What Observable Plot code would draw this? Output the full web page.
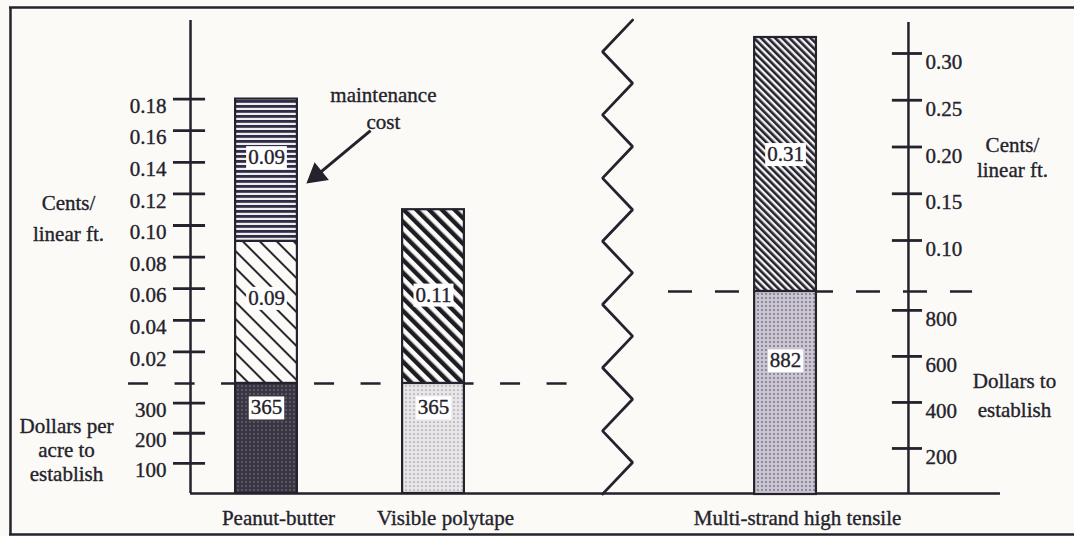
<!DOCTYPE html>
<html><head><meta charset="utf-8">
<script src="https://cdn.jsdelivr.net/npm/d3@7"></script>
<script src="https://cdn.jsdelivr.net/npm/@observablehq/plot@0.6"></script>
<style>
html,body{margin:0;padding:0;background:#fbfaf6;}
#chart{position:relative;width:1074px;height:536px;overflow:hidden;background:#fbfaf6;}
#chart svg.layer{position:absolute;left:0;top:0;}
</style></head><body>
<div id="chart"></div>
<script>
// ---------------- DATA ----------------
const fences = ["Peanut-butter", "Visible polytape", "Multi-strand high tensile"];
const establishDollars = [365, 365, 882];          // dollars to establish
const baseCents = [0.09, 0.11, 0.31];              // cents / linear ft.
const maintenanceCents = [0.09, null, null];       // maintenance cost, cents / linear ft.
const leftCentsTicks = [0.02, 0.04, 0.06, 0.08, 0.10, 0.12, 0.14, 0.16, 0.18];
const leftDollarTicks = [100, 200, 300];
const rightCentsTicks = [0.10, 0.15, 0.20, 0.25, 0.30];
const rightDollarTicks = [200, 400, 600, 800];

// ---------------- LAYOUT / STYLE ----------------
const W = 1074, H = 536;
const FONT = "'Liberation Serif', 'Times New Roman', serif";
const INK = "#24222c";
const FS = 21;
const slot = [0, 1, 3.108];       // bar slot along the shared x scale
const hw = 0.185;                  // half bar width in slot units
const axL = -0.455, axR = 3.844;   // axis positions in slot units
const centsPat = ["thinhatch", "thickhatch", "densehatch"];
const dollarPat = ["darkdots", "lightdots", "meddots"];
const centsLabelFrac = [0.6, 0.51, 0.54];
const maintLabelFrac = 0.59;
const dollarLabelFrac = [0.78, 0.78, 0.66];

const chart = document.getElementById("chart");
chart.insertAdjacentHTML("beforeend", `
<svg width="0" height="0" style="position:absolute">
 <defs>
  <pattern id="hstripe" patternUnits="userSpaceOnUse" width="8" height="5">
    <rect width="8" height="5" fill="#f1efec"/><rect width="8" height="2.8" fill="#2e2c48"/></pattern>
  <pattern id="thinhatch" patternUnits="userSpaceOnUse" width="12" height="12" patternTransform="rotate(-45)">
    <rect width="12" height="12" fill="#fbfaf6"/><rect width="2" height="12" fill="#2a2830"/></pattern>
  <pattern id="thickhatch" patternUnits="userSpaceOnUse" width="9" height="9" patternTransform="rotate(-45)">
    <rect width="9" height="9" fill="#fbfaf6"/><rect width="4.4" height="9" fill="#1e1c24"/></pattern>
  <pattern id="densehatch" patternUnits="userSpaceOnUse" width="5" height="5" patternTransform="rotate(-45)">
    <rect width="5" height="5" fill="#f4f2f2"/><rect width="2.6" height="5" fill="#24222c"/></pattern>
  <pattern id="darkdots" patternUnits="userSpaceOnUse" width="4" height="4">
    <rect width="4" height="4" fill="#3a3542"/><circle cx="2" cy="2" r="0.8" fill="#85808f"/></pattern>
  <pattern id="lightdots" patternUnits="userSpaceOnUse" width="4" height="4">
    <rect width="4" height="4" fill="#e8e6e8"/><circle cx="2" cy="2" r="0.85" fill="#9d9aa3"/></pattern>
  <pattern id="meddots" patternUnits="userSpaceOnUse" width="4" height="4">
    <rect width="4" height="4" fill="#cbc5d1"/><circle cx="2" cy="2" r="0.9" fill="#736c82"/></pattern>
 </defs>
</svg>`);

function layer(y, marks) {
  const svg = Plot.plot({
    width: W, height: H, margin: 0,
    style: {background: "transparent", fontFamily: FONT, fontSize: FS + "px", color: INK, overflow: "visible"},
    x: {domain: [0, 1], range: [266, 433], axis: null},
    y: {...y, axis: null},
    color: {type: "identity"},
    marks
  });
  svg.classList.add("layer");
  chart.appendChild(svg);
  return svg;
}

const txt = {fontSize: FS, fill: INK, stroke: INK, strokeWidth: 0.35};

// segments
const centsSegs = fences.map((f, i) => ({i, y1: 0, y2: baseCents[i], pat: `url(#${centsPat[i]})`,
  label: baseCents[i].toFixed(2), ly: baseCents[i] * centsLabelFrac[i]}));
const maintSegs = fences.map((f, i) => maintenanceCents[i] == null ? null :
  ({i, y1: baseCents[i], y2: baseCents[i] + maintenanceCents[i], pat: "url(#hstripe)",
    label: maintenanceCents[i].toFixed(2), ly: baseCents[i] + maintenanceCents[i] * maintLabelFrac})).filter(d => d);
const dollarSegs = fences.map((f, i) => ({i, y1: 0, y2: establishDollars[i], pat: `url(#${dollarPat[i]})`,
  label: String(establishDollars[i]), ly: establishDollars[i] * dollarLabelFrac[i]}));

const barOpts = {x1: d => slot[d.i] - hw, x2: d => slot[d.i] + hw, y1: "y1", y2: "y2",
  fill: "pat", stroke: INK, strokeWidth: 2.2};
const labelOpts = {x: d => slot[d.i], y: "ly", text: "label", ...txt, ariaDescription: "value label"};
const tickStyle = {stroke: INK, strokeWidth: 2.8};

const zig = d3.range(16).map(k => ({x: k % 2 === 0 ? 2.192 : 2.012, y: 0.23 - 0.02 * k}));

// ---- left panel, cents ----
const leftC = [...centsSegs.slice(0, 2), ...maintSegs];
layer({domain: [0, 0.18], range: [383, 98.6]}, [
  // page border (left, top, bottom)
  Plot.ruleX([-1.533], {stroke: INK, strokeWidth: 2.5, insetTop: 7, insetBottom: 2}),
  Plot.ruleY([0.2380, -0.0955], {stroke: INK, strokeWidth: 2.5, insetLeft: 9}),
  Plot.ruleY([0], {x1: -0.826, x2: 1.90, stroke: INK, strokeWidth: 2.5, strokeDasharray: "20,26.5"}),
  Plot.line(zig, {x: "x", y: "y", stroke: INK, strokeWidth: 2.8, strokeLinejoin: "miter"}),
  Plot.ruleX([axL], {stroke: INK, strokeWidth: 2.5, insetTop: 20, insetBottom: 43}),
  Plot.ruleX([axR], {stroke: INK, strokeWidth: 2.5, insetTop: 22, insetBottom: 42}),
  Plot.rect(leftC, barOpts),
  Plot.ruleY(leftCentsTicks, {y: d => d, x1: axL - 0.102, x2: axL + 0.09, ...tickStyle}),
  Plot.text(leftCentsTicks, {x: axL, y: d => d, dx: -24, dy: 7, text: d => d.toFixed(2), textAnchor: "end", ...txt}),
  Plot.text(["Cents/\nlinear ft."], {x: axL, y: 0.1063, dx: -122, lineHeight: 1.45, ...txt}),
  Plot.text(["maintenance\ncost"], {x: 0.70, y: 0.175, lineHeight: 1.3, ...txt}),
  Plot.link([0], {x1: 0.623, y1: 0.160, x2: 0.31, y2: 0.1325, stroke: INK, strokeWidth: 3}),
  Plot.dot([0], {x: 0.30, y: 0.1318, symbol: "triangle", r: 7.5, rotate: 231, fill: INK, stroke: INK}),
  Plot.text(leftC, labelOpts)
]);

// ---- left panel, dollars ----
layer({domain: [0, 365], range: [493, 383]}, [
  Plot.rect(dollarSegs.slice(0, 2), barOpts),
  Plot.ruleY([0], {x1: axL, x2: 4.395, stroke: INK, strokeWidth: 2.5}),
  Plot.ruleY(leftDollarTicks, {y: d => d, x1: axL - 0.102, x2: axL + 0.09, ...tickStyle}),
  Plot.text(leftDollarTicks, {x: axL, y: d => d, dx: -24, dy: 7, text: d => String(d), textAnchor: "end", ...txt}),
  Plot.text(["Dollars per\nacre to\nestablish"], {x: axL, y: 146, dx: -124, lineHeight: 1.13, ...txt}),
  Plot.text(fences, {x: (d, i) => slot[i], y: 0, dy: 25, dx: 12, text: d => d, ...txt}),
  Plot.text(dollarSegs.slice(0, 2), labelOpts)
]);

// ---- right panel, cents bar ----
layer({domain: [0, 0.31], range: [291, 37]}, [
  Plot.ruleY([0], {x1: 2.407, x2: 4.228, stroke: INK, strokeWidth: 2.5, strokeDasharray: "24,23"}),
  Plot.rect(centsSegs.slice(2), barOpts),
  Plot.text(centsSegs.slice(2), labelOpts)
]);

// ---- right panel, cents axis ----
layer({domain: [0.10, 0.30], range: [240, 53]}, [
  Plot.ruleY(rightCentsTicks, {y: d => d, x1: axR - 0.096, x2: axR + 0.084, ...tickStyle}),
  Plot.text(rightCentsTicks, {x: axR, y: d => d, dx: 17, dy: 9, text: d => d.toFixed(2), textAnchor: "start", ...txt}),
  Plot.text(["Cents/\nlinear ft."], {x: axR, y: 0.19, dx: 104, lineHeight: 1.2, ...txt})
]);

// ---- right panel, dollars ----
layer({domain: [0, 882], range: [494, 291]}, [
  Plot.rect(dollarSegs.slice(2), barOpts),
  Plot.ruleY(rightDollarTicks, {y: d => d, x1: axR - 0.096, x2: axR + 0.084, ...tickStyle}),
  Plot.text(rightDollarTicks, {x: axR, y: d => d, dx: 17, dy: 9, text: d => String(d), textAnchor: "start", ...txt}),
  Plot.text(["Dollars to\nestablish"], {x: axR, y: 441, dx: 106, lineHeight: 1.4, ...txt}),
  Plot.text(dollarSegs.slice(2), labelOpts)
]);

// white boxes behind the value labels
for (const g of chart.querySelectorAll('g[aria-description="value label"]')) {
  for (const t of g.querySelectorAll("text")) {
    const b = t.getBBox();
    const r = document.createElementNS("http://www.w3.org/2000/svg", "rect");
    r.setAttribute("x", b.x - 2); r.setAttribute("y", b.y + 1);
    r.setAttribute("width", b.width + 4); r.setAttribute("height", b.height - 1);
    r.setAttribute("fill", "#ffffff");
    r.setAttribute("stroke", "none");
    if (t.getAttribute("transform")) r.setAttribute("transform", t.getAttribute("transform"));
    g.insertBefore(r, t);
  }
}
</script>
</body></html>
